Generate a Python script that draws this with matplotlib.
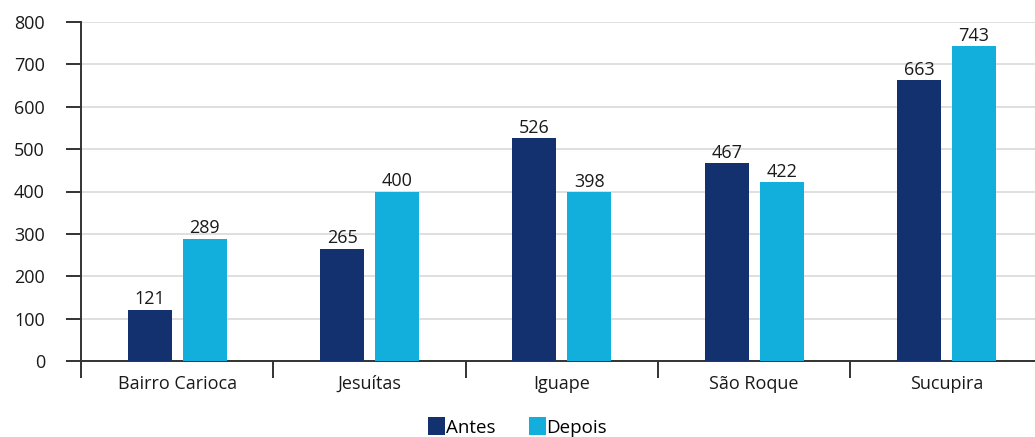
import matplotlib
matplotlib.use("Agg")
import matplotlib.pyplot as plt
import numpy as np
from matplotlib.ticker import FixedLocator

categories = ["Bairro Carioca", "Jesuítas", "Iguape", "São Roque", "Sucupira"]
antes = [121, 265, 526, 467, 663]
depois = [289, 400, 398, 422, 743]
yticks = [0, 100, 200, 300, 400, 500, 600, 700, 800]

c_antes = "#14316f"
c_depois = "#12aedc"

plt.rcParams["font.family"] = ["Open Sans", "DejaVu Sans"]

fig = plt.figure(figsize=(10.35, 4.37), dpi=100)
ax = fig.add_axes([81 / 1035, 1 - 361 / 437, 1 - 81 / 1035, (361 - 22) / 437])

x = np.arange(len(categories))
off = 0.143
w = 0.229
b1 = ax.bar(x - off, antes, w, color=c_antes, label="Antes", zorder=3)
b2 = ax.bar(x + off, depois, w, color=c_depois, label="Depois", zorder=3)

for bars, vals in ((b1, antes), (b2, depois)):
    for rect, v in zip(bars, vals):
        ax.text(rect.get_x() + rect.get_width() / 2, v + 3, str(v),
                ha="center", va="bottom", fontsize=13, color="#1a1a1a")

ax.set_xlim(-0.5, 4.46)
ax.set_ylim(0, 800)
ax.set_yticks(yticks)
ax.yaxis.grid(True, color="#d9d9d9", linewidth=1.2, zorder=0)
ax.set_axisbelow(True)

ax.set_xticks(x)
ax.set_xticklabels(categories, fontsize=13, color="#1a1a1a")
ax.xaxis.set_minor_locator(FixedLocator(np.arange(-0.5, 5, 1)))
ax.tick_params(axis="x", which="major", length=0, pad=10)
ax.tick_params(axis="x", which="minor", length=12, width=1.4, color="#333333", direction="out")
ax.tick_params(axis="y", length=11, width=1.4, color="#333333", pad=15, labelsize=13,
               labelcolor="#1a1a1a")

for s in ("top", "right"):
    ax.spines[s].set_visible(False)
ax.spines["left"].set_color("#333333")
ax.spines["left"].set_linewidth(1.4)
ax.spines["bottom"].set_color("#333333")
ax.spines["bottom"].set_linewidth(1.4)

fig.legend(handles=[b1, b2], labels=["Antes", "Depois"], loc="center",
           bbox_to_anchor=(0.5, 1 - 427 / 437), ncol=2, frameon=False,
           fontsize=13.5, handlelength=0.9, handleheight=1.05, handletextpad=0.05,
           columnspacing=1.8)

fig.savefig("out.png", dpi=100)
